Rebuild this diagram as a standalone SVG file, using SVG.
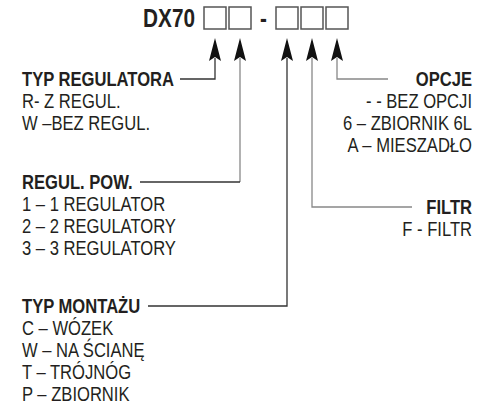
<svg xmlns="http://www.w3.org/2000/svg" width="489" height="414" viewBox="0 0 489 414">
<style>
text{font-family:"Liberation Sans",Arial,sans-serif;fill:#231f20;font-size:20px}
.b{font-weight:bold}
.r{text-anchor:end}
.box{fill:#fff;stroke:#555;stroke-width:1.5}
.ln{fill:none;stroke:#333;stroke-width:1.3}
.lg{fill:none;stroke:#888;stroke-width:1.3}
.ah{fill:#111}
</style>
<rect width="489" height="414" fill="#fff"/>
<g id="title">
<g transform="translate(195 0) scale(0.83 1)"><text class="b r" x="0" y="27" style="font-size:25px">DX70</text></g>
<rect class="box" x="204" y="7" width="22" height="22"/>
<rect class="box" x="229" y="7" width="22" height="22"/>
<g transform="translate(263.5 0) scale(0.83 1)"><text class="b" x="0" y="27" text-anchor="middle" style="font-size:25px">-</text></g>
<rect class="box" x="276" y="7" width="22" height="22"/>
<rect class="box" x="301" y="7" width="22" height="22"/>
<rect class="box" x="326" y="7" width="22" height="22"/>
</g>
<g id="connectors">
<polyline class="ln" points="180,79 215,79 215,58"/>
<polyline class="lg" points="240,58 240,182"/>
<polyline class="ln" points="140,182 240,182"/>
<polyline class="ln" points="148,306 287,306 287,58"/>
<polyline class="lg" points="412,207 312,207 312,58"/>
<polyline class="lg" points="388,79 337,79 337,58"/>
<polygon class="ah" points="215,38 221,61 215,57 209,61"/>
<polygon class="ah" points="240,38 246,61 240,57 234,61"/>
<polygon class="ah" points="287,38 293,61 287,57 281,61"/>
<polygon class="ah" points="312,38 318,61 312,57 306,61"/>
<polygon class="ah" points="337,38 343,61 337,57 331,61"/>
</g>
<g id="typ-regulatora" transform="translate(22 0) scale(0.83 1)">
<text class="b" x="0" y="86">TYP REGULATORA</text>
<text x="0" y="108">R- Z REGUL.</text>
<text x="0" y="130">W –BEZ REGUL.</text>
</g>
<g id="regul-pow" transform="translate(22 0) scale(0.83 1)">
<text class="b" x="0" y="189">REGUL. POW.</text>
<text x="0" y="211">1 – 1 REGULATOR</text>
<text x="0" y="233">2 – 2 REGULATORY</text>
<text x="0" y="255">3 – 3 REGULATORY</text>
</g>
<g id="typ-montazu" transform="translate(22 0) scale(0.83 1)">
<text class="b" x="0" y="313">TYP MONTAŻU</text>
<text x="0" y="335">C – WÓZEK</text>
<text x="0" y="357">W – NA ŚCIANĘ</text>
<text x="0" y="379">T – TRÓJNÓG</text>
<text x="0" y="401">P – ZBIORNIK</text>
</g>
<g id="opcje" transform="translate(472 0) scale(0.83 1)">
<text class="b r" x="0" y="86">OPCJE</text>
<text class="r" x="0" y="108">- - BEZ OPCJI</text>
<text class="r" x="0" y="130">6 – ZBIORNIK 6L</text>
<text class="r" x="0" y="152">A – MIESZADŁO</text>
</g>
<g id="filtr" transform="translate(472 0) scale(0.83 1)">
<text class="b r" x="0" y="214">FILTR</text>
<text class="r" x="0" y="236">F - FILTR</text>
</g>
</svg>
